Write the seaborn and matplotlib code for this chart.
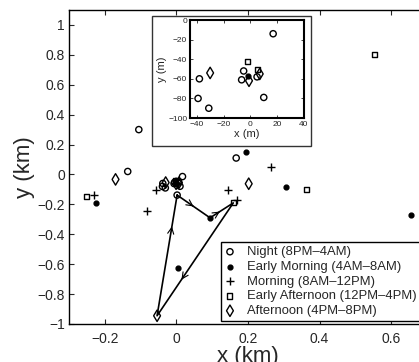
import matplotlib
matplotlib.use("Agg")
import matplotlib.pyplot as plt
import matplotlib.patches as mpatches
from matplotlib.ticker import FuncFormatter
import numpy as np
import pandas as pd
import seaborn as sns

# positions in km
night_x = [-0.105, -0.136, 0.017, 0.167, 0.002, -0.038, -0.039, -0.031, -0.005, -0.0065, 0.005, 0.010]
night_y = [0.30, 0.02, -0.014, 0.11, -0.138, -0.060, -0.080, -0.090, -0.052, -0.061, -0.058, -0.079]
early_morning_x = [-0.224, 0.004, 0.195, 0.307, 0.655, 0.094, -0.002]
early_morning_y = [-0.19, -0.625, 0.153, -0.085, -0.27, -0.29, -0.057]
morning_x = [-0.23, -0.083, -0.057, 0.145, 0.264, 0.168]
morning_y = [-0.135, -0.245, -0.107, -0.107, 0.053, -0.17]
early_afternoon_x = [-0.251, 0.552, 0.364, 0.159, -0.002, 0.005]
early_afternoon_y = [-0.145, 0.80, -0.10, -0.19, -0.042, -0.050]
afternoon_x = [-0.17, 0.202, -0.054, -0.030, -0.001, 0.007]
afternoon_y = [-0.033, -0.062, -0.945, -0.054, -0.062, -0.055]

# trajectory: night -> early morning -> early afternoon -> afternoon -> night
traj_x = [0.002, 0.094, 0.159, -0.054, 0.002]
traj_y = [-0.138, -0.29, -0.19, -0.945, -0.138]

labels = ["Night (8PM–4AM)", "Early Morning (4AM–8AM)", "Morning (8AM–12PM)",
          "Early Afternoon (12PM–4PM)", "Afternoon (4PM–8PM)"]

xticks_km = [-0.2, 0, 0.2, 0.4, 0.6]
yticks_km = [-1, -0.8, -0.6, -0.4, -0.2, 0, 0.2, 0.4, 0.6, 0.8, 1]
xticks_m = [-40, -20, 0, 20, 40]
yticks_m = [-100, -80, -60, -40, -20, 0]

sns.set_style("ticks")
plt.rcParams['font.family'] = ['Liberation Sans', 'DejaVu Sans']

groups = [
    (night_x, night_y, "o", "none", 20),
    (early_morning_x, early_morning_y, "o", "k", 12),
    (morning_x, morning_y, "+", "k", 28),
    (early_afternoon_x, early_afternoon_y, "s", "none", 13),
    (afternoon_x, afternoon_y, "d", "none", 34),
]


def fmt(v, pos):
    v = round(v, 6)
    if abs(v) < 1e-9:
        v = 0
    return f"{v:g}".replace("-", "\u2212")


def draw_points(ax, scale, with_label):
    for (gx, gy, m, fc, s), lab in zip(groups, labels):
        df = pd.DataFrame({"x": np.array(gx) * scale, "y": np.array(gy) * scale})
        sns.scatterplot(data=df, x="x", y="y", ax=ax, marker=m, s=s,
                        color="k", facecolor=fc, edgecolor="k", linewidth=1.0,
                        label=lab if with_label else None, zorder=3)


fig = plt.figure(figsize=(4.19, 3.62), dpi=100)
ax = fig.add_axes([0.1647, 0.105, 0.8544, 0.8674])

# trajectory lines with arrows
sns.lineplot(x=traj_x, y=traj_y, sort=False, estimator=None, color="k", lw=1.2, ax=ax, zorder=2)
for i, frac in enumerate([0.5, 0.42, 0.68, 0.74]):
    x0, y0 = traj_x[i], traj_y[i]
    x1, y1 = traj_x[i + 1], traj_y[i + 1]
    xa, ya = x0 + frac * (x1 - x0), y0 + frac * (y1 - y0)
    xb, yb = x0 + (frac - 0.02) * (x1 - x0), y0 + (frac - 0.02) * (y1 - y0)
    ax.annotate("", xy=(xa, ya), xytext=(xb, yb),
                arrowprops=dict(arrowstyle="->", lw=0.8, color="k", mutation_scale=11))

draw_points(ax, 1, True)

ax.set_xlim(-0.3, 0.7)
ax.set_ylim(-1, 1.1)
ax.set_xticks(xticks_km)
ax.set_yticks(yticks_km)
ax.xaxis.set_major_formatter(FuncFormatter(fmt))
ax.yaxis.set_major_formatter(FuncFormatter(fmt))
ax.tick_params(direction="in", length=3.5, width=0.8, labelsize=10, top=True, right=True)
ax.tick_params(axis="x", pad=6)
ax.tick_params(axis="y", pad=3)
for sp in ax.spines.values():
    sp.set_visible(True)
    sp.set_linewidth(1.0)
    sp.set_color("k")
ax.set_xlabel("x (km)", fontsize=16, labelpad=0)
ax.set_ylabel("y (km)", fontsize=16, labelpad=2)

leg = ax.legend(loc="lower left", bbox_to_anchor=(0.527, 0.113), bbox_transform=fig.transFigure,
                fontsize=9.4, frameon=True, fancybox=False, edgecolor="k", framealpha=1,
                handlelength=0.8, handletextpad=0.9, labelspacing=0.2, borderpad=0.3,
                borderaxespad=0)
leg.get_frame().set_linewidth(1.0)
leg.set_zorder(7)

# inset
box = mpatches.Rectangle((0.3628, 0.5967), 0.3795, 0.359, transform=fig.transFigure,
                         facecolor="white", edgecolor="#333333", lw=1.0, zorder=5)
fig.patches.append(box)
axi = fig.add_axes([0.4535, 0.674, 0.272, 0.2707])
axi.set_zorder(6)
draw_points(axi, 1000, False)
axi.set_xlim(-45, 40)
axi.set_ylim(-100, 0)
axi.set_xticks(xticks_m)
axi.set_yticks(yticks_m)
axi.xaxis.set_major_formatter(FuncFormatter(fmt))
axi.yaxis.set_major_formatter(FuncFormatter(fmt))
axi.tick_params(direction="in", length=2.5, width=0.6, labelsize=6, top=True, right=True, pad=2)
for sp in axi.spines.values():
    sp.set_visible(True)
    sp.set_linewidth(1.5)
    sp.set_color("k")
axi.set_xlabel("x (m)", fontsize=8, labelpad=1)
axi.set_ylabel("y (m)", fontsize=8, labelpad=1)
if axi.get_legend() is not None:
    axi.get_legend().remove()

fig.savefig("out.png", dpi=100)
